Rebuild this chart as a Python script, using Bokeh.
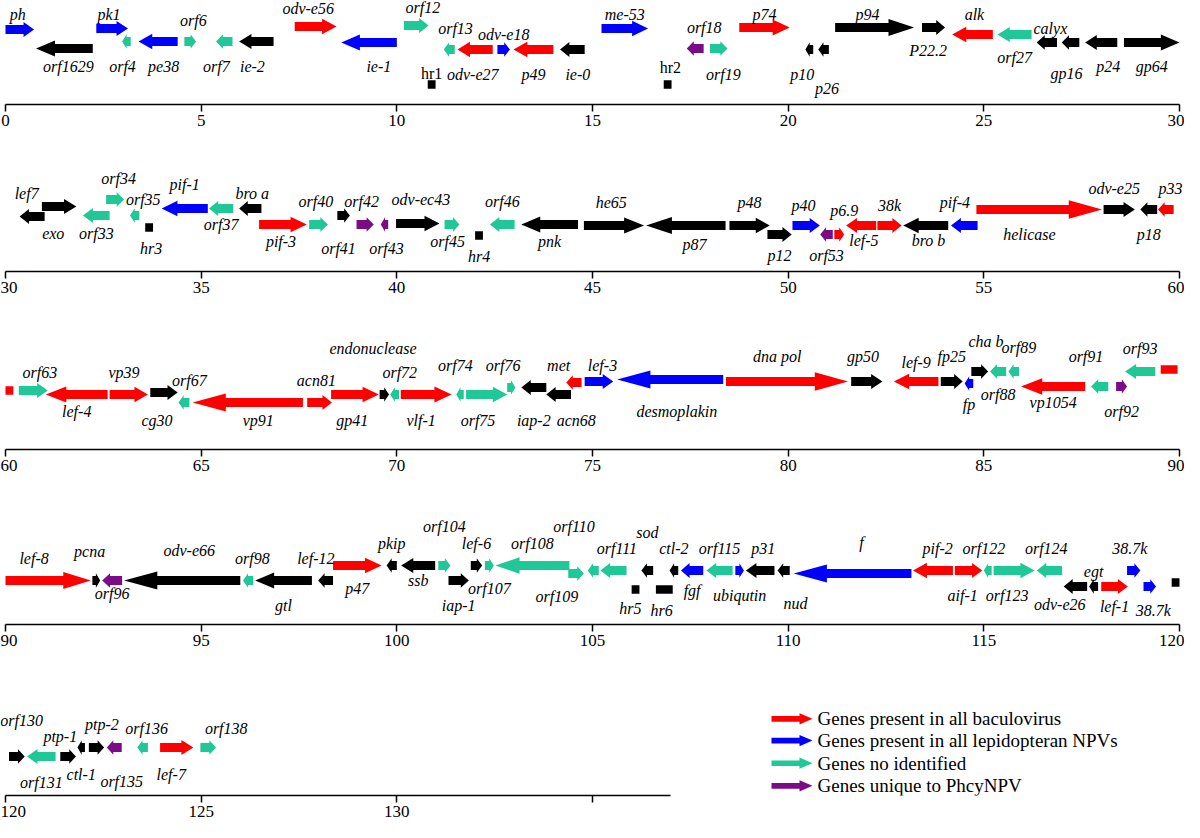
from bokeh.plotting import figure
from bokeh.models import Range1d, FixedTicker
from bokeh.layouts import column, row
from bokeh.embed import file_html
from bokeh.resources import INLINE
from bokeh.core.properties import value

# ---------------- DATA (genome map, kb) ----------------
GENE = [
    # 0-30 kb
    "ph", "orf1629", "pk1", "orf4", "pe38", "orf6", "orf7", "ie-2", "odv-e56", "ie-1", "orf12", "hr1",
    "orf13", "odv-e27", "odv-e18", "p49", "ie-0", "me-53", "hr2", "orf18", "orf19", "p74", "p10", "p26",
    "p94", "P22.2", "alk", "orf27", "calyx", "gp16", "p24", "gp64",
    # 30-60 kb
    "lef7", "exo", "orf33", "orf34", "orf35", "hr3", "pif-1", "orf37", "bro a", "pif-3", "orf40", "orf41",
    "orf42", "orf43", "odv-ec43", "orf45", "hr4", "orf46", "pnk", "he65", "p87", "p48", "p12", "p40",
    "orf53", "p6.9", "lef-5", "38k", "bro b", "pif-4", "helicase", "odv-e25", "p18", "p33",
    # 60-90 kb
    "", "orf63", "lef-4", "vp39", "cg30", "orf67", "vp91", "acn81", "gp41", "endonuclease", "orf72",
    "vlf-1", "orf74", "orf75", "orf76", "iap-2", "acn68", "met", "lef-3", "desmoplakin", "dna pol",
    "gp50", "lef-9", "fp25", "fp", "cha b", "orf88", "orf89", "vp1054", "orf91", "orf92", "orf93", "",
    # 90-120 kb
    "lef-8", "pcna", "orf96", "odv-e66", "orf98", "gtl", "lef-12", "p47", "pkip", "ssb", "orf104",
    "iap-1", "lef-6", "orf107", "orf108", "orf109", "orf110", "orf111", "hr5", "sod", "hr6", "ctl-2",
    "fgf", "orf115", "ubiqutin", "p31", "nud", "f", "pif-2", "aif-1", "orf122", "orf123", "orf124",
    "odv-e26", "egt", "lef-1", "38.7k", "38.7k", "",
    # 120- kb
    "orf130", "orf131", "ptp-1", "ctl-1", "ptp-2", "orf135", "orf136", "lef-7", "orf138",
]

START = [
    0.00, 0.78, 2.32, 2.98, 3.40, 4.57, 5.38, 5.97, 7.39, 8.58, 10.18, 10.79,
    11.20, 11.55, 12.57, 12.98, 14.17, 15.23, 16.82, 17.41, 18.00, 18.75, 20.44, 20.77,
    21.20, 23.42, 24.19, 25.35, 26.35, 26.99, 27.59, 28.58,
    30.36, 30.93, 31.98, 32.57, 33.18, 33.57, 33.99, 35.20, 35.97, 36.48, 37.76, 38.48,
    38.97, 39.59, 39.98, 41.22, 42.00, 42.38, 43.18, 44.78, 46.37, 48.50, 49.47, 50.11,
    50.82, 51.18, 51.48, 52.28, 52.94, 54.16, 54.81, 58.06, 59.00, 59.45,
    60.00, 60.34, 61.03, 62.66, 63.70, 64.42, 64.78, 67.71, 68.32, 69.56, 69.83,
    70.10, 71.52, 71.77, 72.82, 73.18, 73.82, 74.33, 74.80, 75.63, 78.41,
    81.61, 82.70, 83.90, 84.51, 84.68, 85.16, 85.63, 85.95, 87.74, 88.38, 88.61, 89.52,
    90.00, 92.22, 92.47, 93.03, 96.07, 96.38, 97.99, 98.37, 99.74, 100.11, 101.06,
    101.32, 101.89, 102.25, 102.52, 104.38, 104.88, 105.20, 106.00, 106.25, 106.62, 106.97,
    107.26, 107.91, 108.65, 108.92, 109.73, 110.14, 113.19, 114.26, 115.00, 115.25, 116.35,
    117.04, 117.69, 118.00, 118.66, 119.08, 119.80,
    120.09, 120.55, 121.40, 121.84, 122.13, 122.59, 123.37, 123.95, 124.98,
]

END = [
    0.73, 2.23, 3.13, 3.20, 4.40, 4.87, 5.80, 6.85, 8.46, 10.00, 10.81, 10.99,
    11.48, 12.45, 12.89, 14.00, 14.80, 16.42, 17.02, 17.84, 18.45, 20.04, 20.64, 21.04,
    23.22, 24.01, 25.23, 26.22, 26.87, 27.44, 28.41, 30.00,
    31.00, 31.81, 32.66, 33.03, 33.42, 33.77, 35.17, 35.82, 36.54, 37.70, 38.24, 38.80,
    39.41, 39.78, 41.09, 41.60, 42.20, 43.01, 44.63, 46.32, 48.40, 49.53, 50.09, 50.81,
    51.14, 51.43, 52.25, 52.90, 54.09, 54.84, 58.02, 58.86, 59.43, 59.85,
    60.20, 61.08, 62.61, 63.64, 64.40, 64.70, 67.60, 68.34, 69.54, 69.80, 70.06,
    71.40, 71.71, 72.82, 73.03, 73.82, 74.45, 74.72, 75.53, 78.34, 81.53,
    82.41, 83.84, 84.46, 84.73, 85.11, 85.57, 85.90, 87.59, 88.18, 88.66, 89.38, 89.95,
    92.18, 92.42, 92.98, 96.00, 96.33, 97.83, 98.37, 99.61, 100.00, 100.98, 101.37,
    101.84, 102.18, 102.48, 104.41, 104.78, 105.16, 105.87, 106.20, 106.55, 107.05, 107.19,
    107.83, 108.58, 108.87, 109.65, 110.04, 113.15, 114.21, 114.96, 115.20, 116.30, 117.00,
    117.64, 117.92, 118.68, 119.00, 119.40, 120.00,
    120.49, 121.28, 121.80, 122.03, 122.52, 122.97, 123.64, 124.80, 125.38,
]

# +1 forward arrow, -1 reverse arrow, 0 box (hr / segment)
STRAND = [
    1, -1, 1, -1, -1, 1, -1, -1, 1, -1, 1, 0,
    -1, -1, 1, -1, -1, 1, 0, -1, 1, 1, -1, -1,
    1, 1, -1, -1, -1, -1, -1, 1,
    -1, 1, -1, 1, -1, 0, -1, -1, -1, 1, 1, 1,
    1, -1, 1, 1, 0, -1, -1, 1, -1, 1, 1, 1,
    -1, 1, -1, 1, -1, -1, 1, 1, -1, -1,
    0, 1, -1, 1, 1, -1, -1, 1, 1, 1, -1,
    1, -1, 1, 1, -1, -1, -1, 1, -1, 1,
    1, -1, 1, -1, 1, -1, -1, -1, -1, 1, -1, 0,
    1, 1, -1, -1, -1, -1, -1, 1, -1, -1, 1,
    1, 1, 1, -1, 1, -1, -1, 0, -1, 0, -1,
    -1, -1, 1, -1, -1, -1, -1, 1, -1, 1, -1,
    -1, -1, 1, 1, 1, 0,
    1, -1, 1, -1, 1, -1, -1, 1, 1,
]

# R: all baculovirus, B: all lepidopteran NPVs, T: not identified, P: unique, K: other
CLASS = [
    "B", "K", "B", "T", "B", "T", "T", "K", "R", "B", "T", "K",
    "T", "R", "B", "R", "K", "B", "K", "P", "T", "R", "K", "K",
    "K", "K", "R", "T", "K", "K", "K", "K",
    "K", "K", "T", "T", "T", "K", "B", "T", "K", "R", "T", "K",
    "P", "P", "K", "T", "K", "T", "K", "K", "K", "K", "K", "B",
    "P", "R", "R", "R", "K", "B", "R", "K", "K", "R",
    "R", "T", "R", "R", "K", "T", "R", "R", "R", "K", "T",
    "R", "T", "T", "T", "K", "K", "R", "B", "B", "R",
    "K", "R", "K", "B", "K", "T", "T", "R", "T", "P", "T", "R",
    "R", "K", "P", "K", "T", "K", "K", "R", "K", "K", "T",
    "K", "K", "T", "T", "T", "T", "T", "K", "K", "K", "K",
    "B", "T", "B", "K", "K", "B", "R", "R", "T", "T", "T",
    "K", "K", "R", "B", "B", "K",
    "K", "T", "K", "K", "K", "P", "T", "R", "T",
]

ROW_START = [0, 30, 60, 90, 120]
ROW_AXIS_END = [30, 60, 90, 120, 137]
ROW_TICKS = [[0, 5, 10, 15, 20, 25, 30], [30, 35, 40, 45, 50, 55, 60],
             [60, 65, 70, 75, 80, 85, 90], [90, 95, 100, 105, 110, 115, 120],
             [120, 125, 130, 135]]
UNLABELED_TICKS = [135]

LEGEND_CLASS = ["R", "B", "T", "P"]
LEGEND_TEXT = ["Genes present in all baculovirus", "Genes present in all lepidopteran NPVs",
               "Genes no identified", "Genes unique to PhcyNPV"]

# ---------------- LAYOUT (track heights in px above axis, label offsets) ----------------
LANE = [
    75, 56, 76, 63, 63, 63, 63, 63, 78, 62, 79, 20,
    55, 55, 55, 55, 55, 76, 20, 56, 56, 77, 55, 55,
    77, 77, 70, 70, 62, 62, 62, 62,
    55, 65, 56, 72, 56, 44, 63, 63, 63, 47, 47, 56,
    47, 47, 48, 47, 36, 47, 47, 46, 46, 46, 37, 46,
    37, 37, 46, 46, 46, 46, 62, 62, 62, 62,
    59, 59, 55, 55, 57, 47, 47, 47, 55, 55, 55,
    55, 55, 55, 62, 62, 55, 67, 68, 70, 68,
    68, 68, 68, 66, 78, 78, 78, 63, 63, 63, 78, 80,
    44, 44, 44, 44, 44, 44, 44, 59, 59, 59, 59,
    44, 59, 59, 59, 51, 54, 54, 35, 54, 35, 54,
    54, 54, 54, 54, 54, 51, 54, 54, 54, 54, 54,
    38, 38, 38, 54, 38, 42,
    39, 39, 39, 48, 48, 48, 48, 48, 48,
]
LBL_DX = [
    -0.05, 0.1, -0.08, -0.1, 0.14, 0.08, -0.2, -0.1, -0.19, 0.25, 0.17, 0,
    0.16, -0.06, 0, 0, 0.14, 0, 0.07, 0.23, 0.12, 0, -0.18, 0.09,
    -0.18, -0.14, 0.05, 0, 0.09, -0.1, 0.18, 0,
    -0.14, -0.15, 0, 0.09, 0.22, 0.05, 0, 0, 0.05, -0.05, -0.07, -0.13,
    -0.09, 0.05, 0.08, -0.11, 0, 0, 0, -0.07, 0.22, 0, 0, -0.07,
    0, 0.13, 0.07, 0, 0.07, -0.24, -0.25, -0.13, 0, 0.12,
    0, 0.17, 0, -0.12, -0.18, 0.14, 0.27, -0.08, -0.07, -0.29, 0.13,
    -0.13, -0.12, -0.22, -0.21, 0, 0.45, -0.39, 0.09, 0.17, -0.25,
    -0.1, 0, 0, 0, 0.16, 0, 0.13, 0, -0.35, 0, 0, 0,
    -0.36, -0.17, 0, 0.18, 0.11, 0, -0.25, 0, 0, 0, 0,
    0, 0, 0, 0, -0.49, -0.49, 0.09, -0.13, 0, -0.07, 0,
    0, 0, 0, 0.08, 0.3, 0.23, 0.12, -0.15, -0.1, -0.18, -0.08,
    -0.4, 0, 0, -0.1, 0.09, 0,
    0.12, 0, -0.2, 0, 0.14, 0.19, 0.1, -0.14, 0.46,
]
LBL_DY = [
    15, -18, 14, -25, -25, 21, -25, -25, 18, -24, 18, 11,
    21, -25, 15, -25, -25, 14, 17, 21, -26, 13, -25, -39,
    13, -23, 20, -23, 14, -31, -24, -24,
    23, -27, -18, 21, 16, -21, 24, -16, 15, -17, 23, -33,
    23, -24, 24, -17, -21, 23, -17, 23, -19, 23, -21, 20,
    -21, 24, -15, 20, -15, 23, -25, 21, -25, 21,
    0, 18, -17, 22, -28, 22, -18, 22, -26, 46, 22,
    -26, 29, -26, 22, -33, -26, 17, 16, -32, 25,
    25, 19, 25, -21, 30, -23, 24, -16, 30, -25, 23, 0,
    22, 29, -13, 30, 22, -25, 22, -23, 22, -15, 39,
    -25, 22, -23, 22, -23, 44, 22, -19, 38, -21, 22,
    -20, 22, -25, 22, -33, 31, 22, -25, 22, -25, 22,
    -18, 15, -20, 22, -24, 0,
    36, -26, 20, -27, 23, -34, 19, -27, 19,
]
UPRIGHT_LABELS = ["hr1", "hr2"]

COLORS = {"R": "#FF0000", "B": "#0000FF", "T": "#1FC896", "P": "#7B0B86", "K": "#000000"}
FONT = "Liberation Serif"
PX_PER_KB = 1174 / 30.0
LEFT_PAD_PX = 5
FIG_H = [157, 160, 180, 185, 140]
FRAME_H = [104, 114, 132, 127, 113]
ROW5_W = 740


def arrow_shape(s, e, strand, y):
    L = e - s
    if strand == 0:
        h = 4.25
        return [s, e, e, s], [y - h, y - h, y + h, y + h]
    hl = min(0.3 * L + 0.05, 0.85)
    hh = min(7.0 + 0.7 * L, 9.5)
    sh = 4.5
    if strand > 0:
        xs = [s, e - hl, e - hl, e, e - hl, e - hl, s]
    else:
        xs = [e, s + hl, s + hl, s, s + hl, s + hl, e]
    ys = [y - sh, y - sh, y - hh, y, y + hh, y + sh, y + sh]
    return xs, ys


figs = []
for r in range(5):
    x0 = ROW_START[r]
    width = 1184 if r < 4 else ROW5_W
    xs0 = x0 - LEFT_PAD_PX / PX_PER_KB
    p = figure(width=width, height=FIG_H[r], x_range=Range1d(xs0, xs0 + width / PX_PER_KB),
               y_range=Range1d(0, FRAME_H[r]), toolbar_location=None, output_backend="svg",
               y_axis_location=None, min_border_left=0, min_border_right=0,
               min_border_top=0, min_border_bottom=FIG_H[r] - FRAME_H[r])
    p.outline_line_color = None
    p.xgrid.visible = False
    p.ygrid.visible = False
    p.background_fill_color = "white"
    p.border_fill_color = "white"
    ax = p.xaxis[0]
    ax.ticker = FixedTicker(ticks=ROW_TICKS[r])
    ax.bounds = (x0, ROW_AXIS_END[r])
    ax.axis_line_width = 1.5
    ax.axis_line_color = "black"
    ax.major_tick_line_width = 1.5
    ax.major_tick_line_color = "black"
    ax.major_tick_in = 0
    ax.major_tick_out = 7
    ax.minor_tick_line_color = None
    ax.major_label_text_font = FONT
    ax.major_label_text_font_size = "17px"
    ax.major_label_text_color = "black"
    ax.major_label_standoff = 3
    ax.major_label_overrides = {t: "" for t in UNLABELED_TICKS if t in ROW_TICKS[r]}

    idx = [i for i in range(len(GENE)) if min(int(START[i] // 30), 4) == r]
    xs_list, ys_list, cols = [], [], []
    for i in idx:
        xs, ys = arrow_shape(START[i], END[i], STRAND[i], LANE[i])
        xs_list.append(xs)
        ys_list.append(ys)
        cols.append(COLORS[CLASS[i]])
    p.patches(xs_list, ys_list, fill_color=cols, line_color=None)

    it_x, it_y, it_t, up_x, up_y, up_t = [], [], [], [], [], []
    for i in idx:
        if not GENE[i]:
            continue
        lx = (START[i] + END[i]) / 2.0 + LBL_DX[i]
        ly = LANE[i] + LBL_DY[i]
        if GENE[i] in UPRIGHT_LABELS:
            up_x.append(lx); up_y.append(ly); up_t.append(GENE[i])
        else:
            it_x.append(lx); it_y.append(ly); it_t.append(GENE[i])
    p.text(it_x, it_y, text=it_t, text_font=value(FONT), text_font_style="italic",
           text_font_size="16px", text_align="center", text_baseline="middle", text_color="black")
    if up_t:
        p.text(up_x, up_y, text=up_t, text_font=value(FONT), text_font_style="normal",
               text_font_size="16px", text_align="center", text_baseline="middle", text_color="black")
    figs.append(p)

# legend panel (pixel coordinates)
LW = 1184 - ROW5_W
leg = figure(width=LW, height=FIG_H[4], x_range=Range1d(0, LW), y_range=Range1d(0, FIG_H[4]),
             toolbar_location=None, output_backend="svg", x_axis_location=None, y_axis_location=None,
             min_border=0)
leg.outline_line_color = None
leg.xgrid.visible = False
leg.ygrid.visible = False
leg_y = [95, 68, 40, 12]
lxs, lys, lcols = [], [], []
for k, c in enumerate(LEGEND_CLASS):
    y = leg_y[k]
    lxs.append([31, 59, 59, 72, 59, 59, 31])
    lys.append([y - 3.5, y - 3.5, y - 7, y, y + 7, y + 3.5, y + 3.5])
    lcols.append(COLORS[c])
leg.patches(lxs, lys, fill_color=lcols, line_color=None)
leg.text([77] * 4, leg_y, text=LEGEND_TEXT, text_font=value(FONT), text_font_size="19px",
         text_align="left", text_baseline="middle", text_color="black")

layout = column(figs[0], figs[1], figs[2], figs[3], row(figs[4], leg, spacing=0), spacing=0)
open("out.html", "w").write(file_html(layout, INLINE))
